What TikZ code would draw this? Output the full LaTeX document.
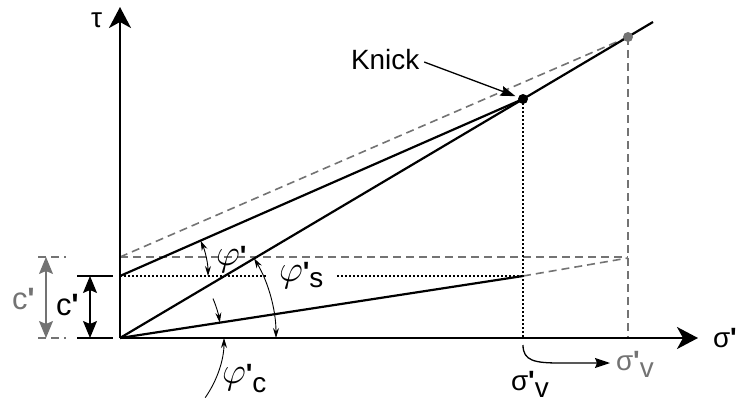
\documentclass[tikz,border=0pt]{standalone}
\usepackage{graphicx}
\usepackage{fontspec}
\setmainfont{Liberation Sans}[Ligatures=TeXOff]
\usetikzlibrary{arrows.meta}
\definecolor{gr}{gray}{0.45}
\newcommand\vphi{\scalebox{1.5}{\fontsize{24.88}{28}\selectfont$\varphi$}}
\newcommand\pr{{\bfseries'}}
\newcommand\lowsub[2]{\raisebox{-#1bp}{#2}}
\begin{document}
\begin{tikzpicture}[x=1bp,y=1bp,
  every node/.style={font=\fontsize{28}{32}\selectfont, inner sep=0pt, outer sep=0pt},
  bigc/.style={font=\fontsize{31}{34}\selectfont},
  ax/.style={line width=2.2bp,-{Stealth[length=21bp,width=22bp,inset=6bp]}},
  solidline/.style={line width=2.2bp},
  grdash/.style={draw=gr, line width=1.6bp, dash pattern=on 8bp off 5bp},
  dotl/.style={line width=1.6bp, dash pattern=on 1.6bp off 2.4bp},
  dimarr/.style={line width=1.1bp, {Stealth[length=17bp,width=14bp,inset=3bp]}-{Stealth[length=17bp,width=14bp,inset=3bp]}},
  angarr/.style={line width=0.9bp, {Stealth[length=10bp,width=6bp]}-{Stealth[length=10bp,width=6bp]}},
  angone/.style={line width=0.9bp, -{Stealth[length=10bp,width=6bp]}},
  pointer/.style={line width=1.3bp, -{Stealth[length=15bp,width=10bp,inset=2bp]}},
  ticksolid/.style={line width=1.1bp},
]
\useasboundingbox (0,0) rectangle (736,403);
% key points
\coordinate (O) at (120,65);
\coordinate (Ytip) at (120,396);
\coordinate (Xtip) at (698,65);
\coordinate (K) at (523,304);
\coordinate (G) at (628,366);
\coordinate (E) at (653,381);
\coordinate (C1) at (120,127);
\coordinate (C2) at (120,146);
\coordinate (L) at (523,127);
\coordinate (Lg) at (628,145);
\coordinate (H2) at (628,146);
\coordinate (Gx) at (628,65);
\coordinate (Kx) at (523,65);

% grey dashed construction lines
\draw[grdash] (C2) -- (G);
\draw[grdash] (C2) -- (H2);
\draw[grdash] (L) -- (Lg);
\draw[grdash] (G) -- (Gx);
\draw[grdash] (38,146) -- (66,146);
\draw[grdash] (38,65) -- (66,65);

% dotted lines
\draw[dotl] (C1) -- (267,127);
\draw[dotl] (337,127) -- (L);
\draw[dotl] (K) -- (Kx);

% axes
\draw[ax] (O) -- (Ytip);
\draw[ax] (O) -- (Xtip);

% solid lines
\draw[solidline] (O) -- (E);
\draw[solidline] (C1) -- (K);
\draw[solidline] (O) -- (L);

% dimension ticks and arrows
\draw[ticksolid] (77,127) -- (113,127);
\draw[ticksolid] (77,65) -- (113,65);
\draw[dimarr, draw=gr, fill=gr] (46,146) -- (46,65);
\draw[dimarr] (90,127) -- (90,65);

% angle arcs
\draw[angarr] ([shift=(0:88)]C1) arc[start angle=0, end angle=23.7, radius=88];
\draw[angarr] ([shift=(0:156)]O) arc[start angle=0, end angle=30.7, radius=156];
\draw[angone] ([shift=(23:101)]O) arc[start angle=23, end angle=8.75, radius=101];
\draw[angone] ([shift=(-35:104)]O) arc[start angle=-35, end angle=0, radius=104];

% points
\fill (K) circle (5);
\fill[gr] (G) circle (5);

% labels
\node[anchor=base west] (tau) at (91,376) {τ};
\node[anchor=base west] (sx) at (713,56) {σ\pr};
\node[anchor=base west, text=gr, bigc] (cg) at (12,94) {c\pr};
\node[anchor=base west, bigc] (cb) at (56,88) {c\pr};
\node[anchor=base west] (knick) at (351,334) {Knick};
\node[anchor=base west] (phi) at (216,138) {\vphi\pr};
\node[anchor=base west] (phis) at (279,122) {\vphi\pr\lowsub{6}{s}};
\node[anchor=base west] (phic) at (222,20) {\vphi\pr\lowsub{9}{c}};
\node[anchor=base west] (sv) at (511,13) {σ\pr\lowsub{7}{v}};
\node[anchor=base west, text=gr] (svg) at (616,33) {σ\pr\lowsub{7}{v}};

% Knick pointer
\draw[pointer, shorten >=8bp] ([xshift=5bp,yshift=-3bp]knick.east) -- (K);
% shift arrow
\coordinate (sh0) at (523,58);
\coordinate (sh1) at (610,40);
\draw[pointer] (sh0) .. controls (523,42) and (535,40) .. (560,40) -- (sh1);
\end{tikzpicture}
\end{document}
